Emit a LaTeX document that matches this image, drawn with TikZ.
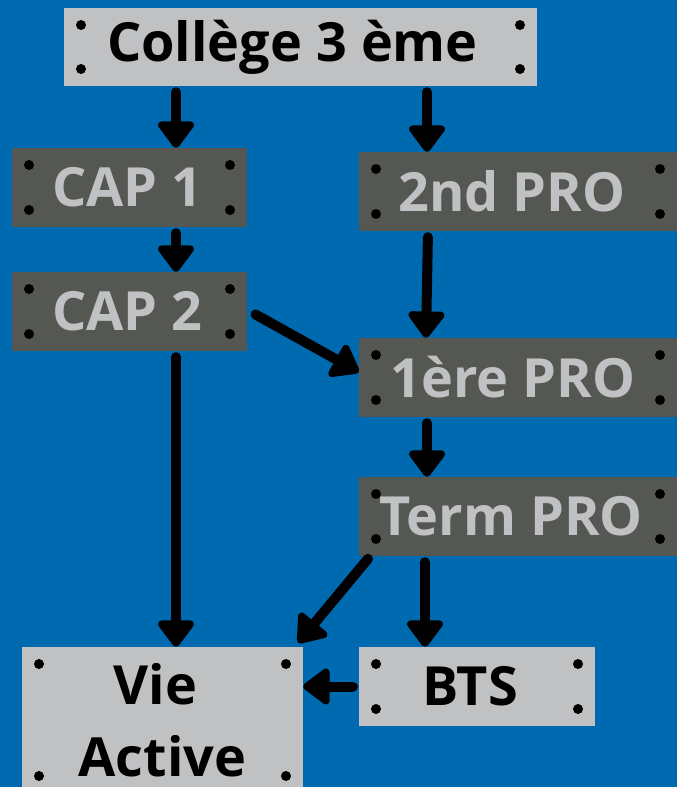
\documentclass[tikz,border=0pt]{standalone}
\usepackage{fontspec}
\setmainfont{Open Sans}
\usetikzlibrary{arrows.meta,calc}
\definecolor{bgblue}{HTML}{006AB0}
\definecolor{boxlight}{HTML}{C0C1C3}
\definecolor{boxdark}{HTML}{555753}

\begin{document}
\begin{tikzpicture}[x=1pt,y=-1pt,
    >={Triangle[width=41pt,length=29pt,round]},
    plate/.style={inner sep=0pt,font=\bfseries\fontsize{54}{72}\selectfont,
        path picture={
            \foreach \c/\sx/\sy in {north west/1/-1,north east/-1/-1,south west/1/1,south east/-1/1}
                \fill[black] ($(path picture bounding box.\c)+(\sx*17pt,\sy*17pt)$) circle (5pt);}},
    light/.style={plate,fill=boxlight,text=black},
    dark/.style={plate,fill=boxdark,text=boxlight},
    arr/.style={->,line width=10pt,line cap=round,shorten <=6pt}]
                        \fill[bgblue] (0,0) rectangle (677,787);
                        \useasboundingbox (0,0) rectangle (677,787);
                        % boxes
                        \node[light,minimum width=473pt,minimum height=78pt] (college) at (300.5,47) {Collège 3 ème\hspace*{16pt}};
                        \node[dark,minimum width=235pt,minimum height=79pt] (cap1) at (129.5,187.5) {CAP 1\hspace*{4pt}};
                        \node[dark,minimum width=235pt,minimum height=79pt] (cap2) at (129.5,311.5) {CAP 2\hspace*{4pt}};
                        \node[dark,minimum width=318pt,minimum height=79pt] (pro2) at (518,191.5) {2nd PRO\hspace*{12pt}};
                        \node[dark,minimum width=318pt,minimum height=79pt] (pro1) at (518,377.5) {1ère PRO\hspace*{10pt}};
                        \node[dark,minimum width=318pt,minimum height=79pt] (term) at (518,516.5) {Term PRO\hspace*{14pt}};
                        \node[light,minimum width=236pt,minimum height=79pt] (bts) at (477,686.5) {BTS\hspace*{14pt}};
                        \node[light,minimum width=281pt,minimum height=146pt,align=center] (vie) at (162.5,720) {Vie\hspace*{14pt}\\Active};
                        % arrows
                        \coordinate (lc) at (176,0);
                        \coordinate (rc) at (427,0);
                        \draw[arr] (college.south -| lc) -- (cap1.north -| lc);
                        \draw[arr] (college.south -| rc) -- (pro2.north -| rc);
                        \draw[arr] (cap1.south -| lc) -- (cap2.north -| lc);
                        \draw[arr] ([xshift=-90pt]pro2.south) -- ([xshift=-92pt]pro1.north);
                        \draw[arr] ([xshift=3pt]cap2.east) -- ([yshift=5.5pt]pro1.west);
                        \draw[arr] (cap2.south -| lc) -- (vie.north -| lc);
                        \draw[arr] (pro1.south -| rc) -- (term.north -| rc);
                        \draw[arr] ([xshift=13pt,yshift=2pt]term.south west) -- ([xshift=-5pt,yshift=4pt]vie.north east);
                        \draw[arr] ([xshift=-2pt]term.south -| rc) -- ([xshift=-2pt]bts.north -| rc);
                        \draw[arr] (bts.west) -- (vie.east |- bts.west);
                    \end{tikzpicture}
\end{document}
